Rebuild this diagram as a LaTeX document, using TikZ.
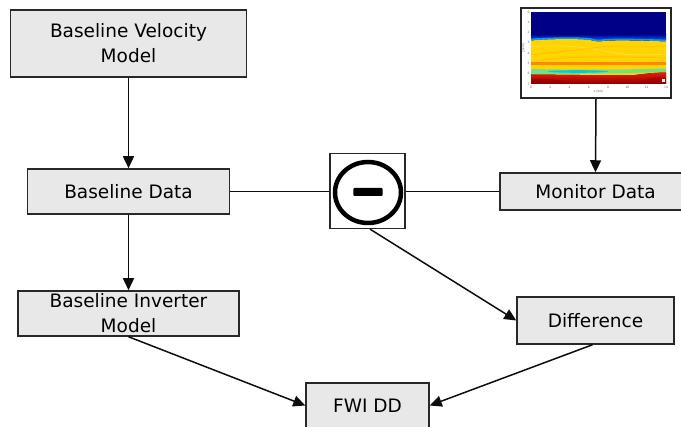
\documentclass[tikz,border=0pt]{standalone}
\usepackage{fontspec}
\setmainfont{DejaVu Sans}
\usetikzlibrary{arrows.meta}
\definecolor{boxfill}{RGB}{232,232,232}
\definecolor{boxline}{RGB}{40,40,40}
\definecolor{vnavy}{RGB}{0,0,135}
\definecolor{vcyan}{RGB}{0,200,235}
\definecolor{vylw}{RGB}{255,212,0}
\definecolor{vorange}{RGB}{255,135,0}
\definecolor{vred}{RGB}{235,25,10}
\definecolor{vdark}{RGB}{140,0,0}
\definecolor{vgreen}{RGB}{110,225,140}
\begin{document}
\begin{tikzpicture}[x=1pt,y=-1pt,
  stepbox/.style={draw=boxline, line width=1.5pt, fill=boxfill, inner sep=0pt,
    font=\fontsize{18.5}{25}\selectfont, align=center, text=black},
  link/.style={line width=1.5pt, draw=black!95},
  arr/.style={link, -{Triangle[length=12pt,width=11pt]}},
  tick/.style={font=\fontsize{3}{3.5}\selectfont, text=black!60, inner sep=0pt}]
\useasboundingbox (0,0) rectangle (681,427);

% process boxes
\node[stepbox, minimum width=236pt, minimum height=67pt] (bvm) at (128.5,43.5) {Baseline Velocity\\Model};
\node[stepbox, minimum width=202pt, minimum height=45pt] (bd) at (128.5,191.5) {Baseline Data};
\node[stepbox, minimum width=221pt, minimum height=45pt] (bim) at (128.5,313.5) {Baseline Inverter\\Model};
\node[stepbox, minimum width=191pt, minimum height=37pt] (mon) at (595.5,191.5) {Monitor Data};
\node[stepbox, minimum width=157pt, minimum height=47pt] (diff) at (595.5,320.5) {Difference};
\node[stepbox, minimum width=123pt, minimum height=45pt] (fwi) at (367.5,405.5) {FWI DD};

% subtraction operator
\node[draw=boxline, line width=1.3pt, fill=white, minimum size=75pt, inner sep=0pt] (minus) at (367.5,191) {};
\draw[line width=4.5pt] (368,192.5) ellipse [x radius=33, y radius=30.5];
\fill[rounded corners=1pt] (353.3,188) rectangle (382.7,196);

% velocity model thumbnail
\node[draw=black!85, line width=2pt, fill=white, minimum width=150pt, minimum height=90pt, inner sep=0pt] (img) at (596,53) {};
\begin{scope}
  \clip (531,12) rectangle (666,84);
  \fill[vnavy] (531,12) rectangle (666,84);
  \fill[top color=vnavy, bottom color=blue!60!vcyan] (531,34) rectangle (666,40);
  \draw[vcyan!80!blue, line width=1.6pt] (531,39.5) .. controls (550,38) and (575,37.5) .. (590,39) .. controls (595,40.5) and (599,41) .. (604,40) .. controls (615,39) and (640,39.5) .. (666,40.5);
  \fill[vylw] (531,40.5) .. controls (550,39) and (575,38.5) .. (590,40) .. controls (595,41.5) and (599,42) .. (604,41) .. controls (615,40) and (640,40.5) .. (666,41.5) -- (666,84) -- (531,84) -- cycle;
  % layering inside the sediment package
  \draw[vylw!70!white, line width=0.6pt] (531,47) .. controls (560,44) and (585,47) .. (610,52) .. controls (630,56) and (650,55) .. (666,54);
  \draw[vorange!40!vylw, line width=0.5pt] (531,55) .. controls (555,52) and (580,50) .. (600,47) .. controls (620,45) and (645,47) .. (666,46);
  \draw[vorange!35!vylw, line width=0.5pt] (540,60) .. controls (570,57) and (600,56) .. (666,58);
  \fill[vorange] (531,62.5) rectangle (666,65.5);
  \fill[vgreen] (531,69) .. controls (570,70) and (620,70) .. (666,68.5) -- (666,72) .. controls (620,73.5) and (570,74) .. (531,74) -- cycle;
  \fill[vcyan] (578,71.5) ellipse [x radius=30, y radius=1.3];
  \fill[top color=vred, bottom color=vdark] (531,74.5) -- (628,75.5) .. controls (640,75) and (645,73) .. (666,72.5) -- (666,84) -- (531,84) -- cycle;
  \fill[vdark, opacity=0.5] (531,84) -- (531,79) .. controls (545,78) and (560,79) .. (570,84) -- cycle;
  \fill[vdark, opacity=0.4] (635,84) .. controls (645,78) and (655,77) .. (666,77) -- (666,84) -- cycle;
  \fill[white] (661.5,79.5) rectangle (664.5,82.5);
\end{scope}
\foreach \d [count=\i from 0] in {0,1,2,3,4,5,6,7}
  \node[tick] (zt\i) at (528.5,12+\i*10.29) {\d};
\foreach \d [count=\i from 0] in {0,2,4,6,8,10,12,14}
  \node[tick] (xt\i) at (531+\i*19.29,87.5) {\d};
\node[tick] (xlab) at (598.5,92) {x (km)};
\node[tick, rotate=90] (zlab) at (523.5,48) {z (km)};

% connectors
\draw[arr] (bvm.south) -- (bd.north);
\draw[arr] (bd.south) -- (bim.north);
\draw[link] (bd.east) -- (minus.west |- bd.east);
\draw[link] (minus.east |- mon.west) -- (mon.west);
\draw[arr] (img.south) -- (mon.north);
\draw[arr] ([xshift=2.5pt]minus.south) -- (diff.west);
\draw[arr] (bim.south) -- (fwi.west);
\draw[arr] ([xshift=-3pt]diff.south) -- (fwi.east);
\end{tikzpicture}
\end{document}
